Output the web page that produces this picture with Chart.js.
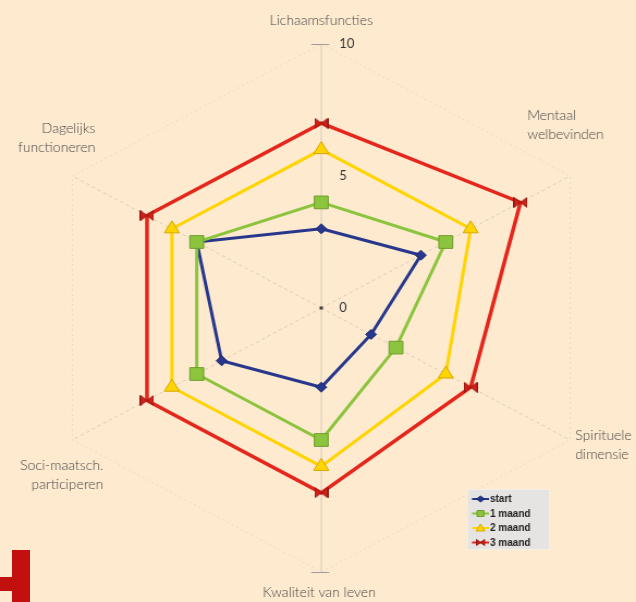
<!DOCTYPE html>
<html lang="nl">
<head>
    <meta charset="UTF-8">
    <title>Radar</title>
    <script src="https://cdn.jsdelivr.net/npm/chart.js@4.4.1/dist/chart.umd.min.js"></script>
    <style>
        html, body { margin: 0; padding: 0; background: #fdeacf; overflow: hidden; }
        #wrap { position: absolute; left: 0; top: 0; width: 584px; height: 602px;
                transform: scaleX(1.0890411); transform-origin: 0 0; }
        .logo { position: absolute; background: #c30f0e; }
    </style>
</head>
<body>
    <div id="wrap"><canvas id="chart" width="584" height="602"></canvas></div>
    <div class="logo" style="left:12px; top:550px; width:18px; height:52px;"></div>
    <div class="logo" style="left:0; top:577px; width:12px; height:14px;"></div>
    <script>
        // data
        const categories = ['Lichaamsfuncties', ['Mentaal', 'welbevinden'], ['Spirituele', 'dimensie'],
            'Kwaliteit van leven', ['Soci-maatsch.', 'participeren'], ['Dagelijks', 'functioneren']]
        const seriesNames = ['start', '1 maand', '2 maand', '3 maand']
        const startValues = [3, 4, 2, 3, 4, 5]
        const maand1Values = [4, 5, 3, 5, 5, 5]
        const maand2Values = [6, 6, 5, 6, 6, 6]
        const maand3Values = [7, 8, 6, 7, 7, 7]
        const tickValues = [0, 5, 10]

        const sx = 636 / 584 // canvas is stretched horizontally by css

        // label placement relative to the outer vertex (screen px)
        const labelPlace = [
            { align: 'center', dx: 0, dy: -24 },
            { align: 'left', dx: -43, dy: -61 },
            { align: 'left', dx: 5, dy: -5 },
            { align: 'center', dx: -2, dy: 20 },
            { align: 'right', dx: 31, dy: 25 },
            { align: 'right', dx: 23, dy: -48 }
        ]

        const bowtie = (() => {
            const c = document.createElement('canvas')
            c.width = 13
            c.height = 11
            const g = c.getContext('2d')
            g.fillStyle = '#cf2219'
            g.strokeStyle = '#8e160f'
            g.lineWidth = 1
            g.beginPath()
            g.moveTo(0.5, 0.5); g.lineTo(6.5, 5.5); g.lineTo(0.5, 10.5); g.closePath()
            g.moveTo(12.5, 0.5); g.lineTo(6.5, 5.5); g.lineTo(12.5, 10.5); g.closePath()
            g.fill()
            g.stroke()
            return c
        })()

        const drawMarker = (ctx, style, x, y, color, border) => {
            ctx.save()
            ctx.fillStyle = color
            ctx.strokeStyle = border
            ctx.lineWidth = 1
            ctx.beginPath()
            if (style === 'rectRot') {
                ctx.moveTo(x - 4, y); ctx.lineTo(x, y - 3); ctx.lineTo(x + 4, y); ctx.lineTo(x, y + 3)
            } else if (style === 'rect') {
                ctx.rect(x - 3.5, y - 3, 7, 6)
            } else if (style === 'triangle') {
                ctx.moveTo(x, y - 4); ctx.lineTo(x + 4.5, y + 3); ctx.lineTo(x - 4.5, y + 3)
            } else {
                ctx.moveTo(x - 4, y - 3); ctx.lineTo(x + 4, y + 3); ctx.lineTo(x + 4, y - 3); ctx.lineTo(x - 4, y + 3)
            }
            ctx.closePath()
            ctx.fill()
            ctx.stroke()
            ctx.restore()
        }

        const overlay = {
            id: 'overlay',
            afterDraw: (chart) => {
                const ctx = chart.ctx
                const scale = chart.scales.r
                ctx.save()
                ctx.scale(1 / sx, 1) // draw in screen px so text is not stretched

                // axis labels
                ctx.fillStyle = '#444'
                ctx.font = '300 14px Lato, "Open Sans", sans-serif'
                ctx.textBaseline = 'middle'
                chart.data.labels.forEach((lab, i) => {
                    const p = scale.getPointPositionForValue(i, 10)
                    const pl = labelPlace[i]
                    const lines = Array.isArray(lab) ? lab : [lab]
                    ctx.textAlign = pl.align
                    lines.forEach((t, j) => {
                        ctx.fillText(t, p.x * sx + pl.dx, p.y + pl.dy + j * 19)
                    })
                })

                // ticks
                ctx.fillStyle = '#333'
                ctx.font = '13px Lato, "Open Sans", sans-serif'
                ctx.textAlign = 'left'
                tickValues.forEach(v => {
                    const p = scale.getPointPositionForValue(0, v)
                    ctx.fillText(String(v), p.x * sx + 18, p.y)
                })
                ctx.strokeStyle = '#a09a94'
                ctx.lineWidth = 1
                ;[0, 3].forEach(i => {
                    const p = scale.getPointPositionForValue(i, 10)
                    ctx.beginPath()
                    ctx.moveTo(p.x * sx - 10, Math.round(p.y) + 0.5)
                    ctx.lineTo(p.x * sx + 8, Math.round(p.y) + 0.5)
                    ctx.stroke()
                })
                ctx.fillStyle = '#333'
                ctx.fillRect(scale.xCenter * sx - 1.5, scale.yCenter - 1.5, 3, 3)

                // legend
                const lx = 467, ly = 489
                ctx.fillStyle = '#e6e4e2'
                ctx.fillRect(lx, ly, 83, 61)
                ctx.strokeStyle = '#f6efe6'
                ctx.strokeRect(lx + 0.5, ly + 0.5, 82, 60)
                ctx.font = 'bold 10px "Liberation Sans", Arial, sans-serif'
                ctx.textAlign = 'left'
                chart.data.datasets.forEach((ds, i) => {
                    const y = ly + 10 + i * 14.5
                    ctx.strokeStyle = ds.borderColor
                    ctx.lineWidth = 2
                    ctx.beginPath()
                    ctx.moveTo(lx + 5, y)
                    ctx.lineTo(lx + 22, y)
                    ctx.stroke()
                    const style = typeof ds.pointStyle === 'string' ? ds.pointStyle : 'bowtie'
                    drawMarker(ctx, style, lx + 13.5, y, ds.pointBackgroundColor, ds.pointBorderColor)
                    ctx.fillStyle = '#1e1e1e'
                    ctx.fillText(ds.label, lx + 23, y + 0.5)
                })
                ctx.restore()
            }
        }

        new Chart(document.getElementById('chart'), {
            type: 'radar',
            data: {
                labels: categories,
                datasets: [
                    {
                        label: seriesNames[0], data: startValues, order: 4,
                        borderColor: '#27378c', borderWidth: 3,
                        pointStyle: 'rectRot', pointRadius: 5,
                        pointBackgroundColor: '#27378c', pointBorderColor: '#1d2a70', pointBorderWidth: 1
                    },
                    {
                        label: seriesNames[1], data: maand1Values, order: 3,
                        borderColor: '#8cc43e', borderWidth: 3,
                        pointStyle: 'rect', pointRadius: 9,
                        pointBackgroundColor: '#8cc43e', pointBorderColor: '#6e9c2c', pointBorderWidth: 1
                    },
                    {
                        label: seriesNames[2], data: maand2Values, order: 2,
                        borderColor: '#ffd400', borderWidth: 3,
                        pointStyle: 'triangle', pointRadius: 8,
                        pointBackgroundColor: '#ffd400', pointBorderColor: '#d4a800', pointBorderWidth: 1
                    },
                    {
                        label: seriesNames[3], data: maand3Values, order: 1,
                        borderColor: '#e4261c', borderWidth: 3.5,
                        pointStyle: bowtie, pointRadius: 6,
                        pointBackgroundColor: '#cf2219', pointBorderColor: '#8e160f'
                    }
                ]
            },
            options: {
                responsive: false,
                devicePixelRatio: 1,
                animation: false,
                layout: { padding: { left: 6, right: 0, top: 44, bottom: 30 } },
                elements: { line: { tension: 0, fill: false } },
                plugins: { legend: { display: false }, tooltip: { enabled: false } },
                scales: {
                    r: {
                        min: 0,
                        max: 10,
                        ticks: { stepSize: 5, display: false },
                        pointLabels: { display: false },
                        grid: {
                            color: (c) => c.tick && c.tick.value === 10 ? 'rgba(190,180,170,0.28)' : 'rgba(0,0,0,0)',
                            lineWidth: 1
                        },
                        border: { dash: [2, 3] },
                        angleLines: {
                            color: 'rgba(185,175,165,0.5)',
                            lineWidth: 1,
                            borderDash: (c) => c.index % 3 === 0 ? [] : [3, 3]
                        }
                    }
                }
            },
            plugins: [overlay]
        })
    </script>
</body>
</html>
